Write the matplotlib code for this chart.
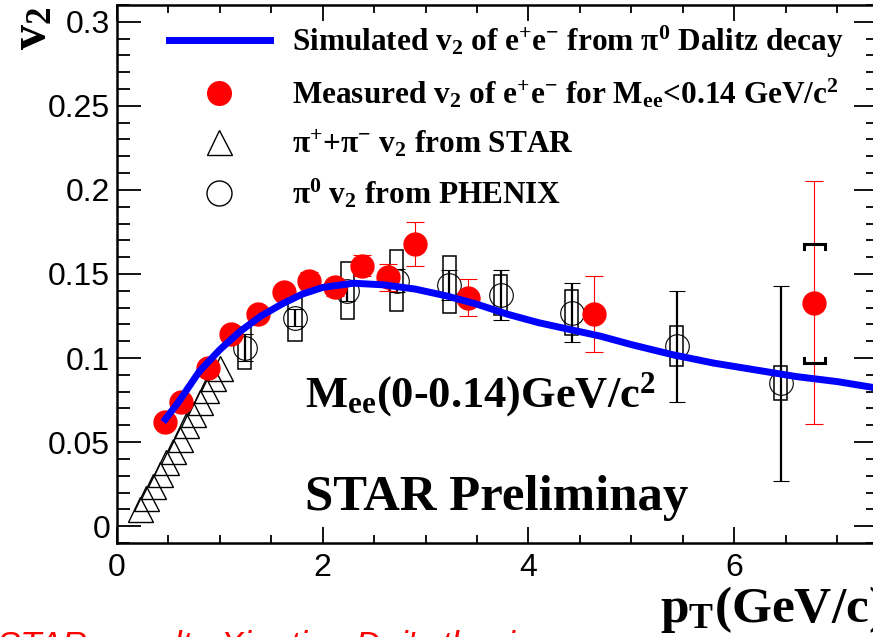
import matplotlib
matplotlib.use("Agg")
import matplotlib.pyplot as plt
from matplotlib.patches import Rectangle
from matplotlib.lines import Line2D
from matplotlib.ticker import MultipleLocator, FuncFormatter

# ---------------- data ----------------
sim_pt = [0.45, 0.6, 0.8, 1.0, 1.2, 1.4, 1.6, 1.8, 2.0, 2.3, 2.6, 2.9, 3.2, 3.5,
          3.8, 4.1, 4.4, 4.7, 5.0, 5.4, 5.8, 6.2, 6.6, 7.0, 7.4]
sim_v2 = [0.062, 0.074, 0.092, 0.105, 0.116, 0.125, 0.132, 0.138, 0.142, 0.1445,
          0.1435, 0.141, 0.137, 0.132, 0.126, 0.121, 0.117, 0.113, 0.108, 0.102,
          0.097, 0.093, 0.089, 0.086, 0.082]

meas_pt = [0.47, 0.62, 0.88, 1.11, 1.37, 1.62, 1.87, 2.12, 2.38, 2.63, 2.90, 3.41, 4.64, 6.78]
meas_v2 = [0.062, 0.074, 0.094, 0.114, 0.126, 0.139, 0.146, 0.142, 0.155, 0.148,
           0.168, 0.136, 0.126, 0.133]
meas_err = [0.003, 0.003, 0.003, 0.003, 0.004, 0.004, 0.005, 0.005, 0.006, 0.008,
            0.013, 0.011, 0.0225, 0.0725]
meas_sys_pt = [6.78]
meas_sys_lo = [0.097]
meas_sys_hi = [0.168]

star_pt = [0.22, 0.285, 0.35, 0.415, 0.48, 0.545, 0.61, 0.675, 0.74, 0.805, 0.87, 0.935, 1.0]
star_v2 = [0.010, 0.017, 0.024, 0.031, 0.038, 0.045, 0.052, 0.060, 0.067, 0.074,
           0.081, 0.088, 0.094]

phx_pt = [1.24, 1.73, 2.24, 2.72, 3.23, 3.73, 4.42, 5.44, 6.45]
phx_v2 = [0.106, 0.124, 0.140, 0.146, 0.1435, 0.1375, 0.127, 0.107, 0.085]
phx_err = [0.008, 0.005, 0.006, 0.007, 0.009, 0.015, 0.0175, 0.033, 0.058]
phx_sys = [0.0125, 0.014, 0.017, 0.018, 0.017, 0.012, 0.0135, 0.012, 0.010]

xticks = [0, 2, 4, 6]
yticks = [0, 0.05, 0.1, 0.15, 0.2, 0.25, 0.3]

# ---------------- style ----------------
plt.rcParams['font.family'] = ['Liberation Serif', 'DejaVu Serif']
plt.rcParams['font.weight'] = 'bold'
plt.rcParams['mathtext.fontset'] = 'custom'
plt.rcParams['mathtext.rm'] = 'Liberation Serif:bold'
plt.rcParams['mathtext.it'] = 'Liberation Serif:bold'
plt.rcParams['mathtext.bf'] = 'Liberation Serif:bold'
plt.rcParams['mathtext.default'] = 'rm'

fig = plt.figure(figsize=(8.73, 6.37), dpi=100)
ax = fig.add_axes([0.134, 0.1476, 0.872, 0.8446])

ax.set_xlim(0, 7.4)
ax.set_ylim(-0.01, 0.31)

# PHENIX systematic boxes
for x, y, s in zip(phx_pt, phx_v2, phx_sys):
    ax.add_patch(Rectangle((x - 0.065, y - s), 0.13, 2 * s, fill=False,
                           edgecolor='black', linewidth=1.1, zorder=2))

# STAR triangles
ax.plot(star_pt, star_v2, linestyle='none', marker='^', markersize=18,
        markerfacecolor='none', markeredgecolor='black', markeredgewidth=1.0, zorder=2)

# PHENIX circles with stat errors
ax.errorbar(phx_pt, phx_v2, yerr=phx_err, fmt='o', markersize=17,
            markerfacecolor='none', markeredgecolor='black', markeredgewidth=0.8,
            ecolor='black', elinewidth=1.6, capsize=5.5, capthick=1.6, zorder=3)

# Measured red points
ax.errorbar(meas_pt, meas_v2, yerr=meas_err, fmt='o', markersize=16.5,
            color='#ff0000', ecolor='#ff0000', elinewidth=0.8, capsize=6.5,
            capthick=0.8, zorder=4)

# systematic brackets for last red point
for x, lo, hi in zip(meas_sys_pt, meas_sys_lo, meas_sys_hi):
    ax.plot([x - 0.1, x - 0.1, x + 0.1, x + 0.1], [hi - 0.003, hi, hi, hi - 0.003],
            color='black', linewidth=2.2, zorder=4, solid_joinstyle='miter')
    ax.plot([x - 0.1, x - 0.1, x + 0.1, x + 0.1], [lo + 0.003, lo, lo, lo + 0.003],
            color='black', linewidth=2.2, zorder=4, solid_joinstyle='miter')

# Simulated curve
ax.plot(sim_pt, sim_v2, color='#0000ff', linewidth=5, zorder=5,
        solid_capstyle='butt')

# ---------------- axes ----------------
for sp in ax.spines.values():
    sp.set_linewidth(1.8)
ax.xaxis.set_major_locator(MultipleLocator(2))
ax.xaxis.set_minor_locator(MultipleLocator(0.5))
ax.yaxis.set_major_locator(MultipleLocator(0.05))
ax.yaxis.set_minor_locator(MultipleLocator(0.01))
ax.set_xticks(xticks)
ax.set_yticks(yticks)
ax.yaxis.set_major_formatter(FuncFormatter(lambda v, p: '%g' % round(v, 3)))
ax.xaxis.set_major_formatter(FuncFormatter(lambda v, p: '%g' % v))
ax.tick_params(axis='both', which='both', direction='in', top=True, right=True,
               width=1.3)
ax.tick_params(axis='x', which='major', length=11.5, pad=7)
ax.tick_params(axis='x', which='minor', length=6)
ax.tick_params(axis='y', which='major', length=17.5, pad=5)
ax.tick_params(axis='y', which='minor', length=9)
for lab in ax.get_xticklabels() + ax.get_yticklabels():
    lab.set_fontfamily('Liberation Sans')
    lab.set_fontweight('normal')
    lab.set_fontsize(23)

# ---------------- texts ----------------
ax.text(1.83, 0.071, r'$M_{ee}$(0-0.14)GeV/c$^{2}$', fontsize=32, ha='left',
        va='baseline', zorder=6)
ax.text(1.83, 0.0095, 'STAR Preliminay', fontsize=36.5, ha='left', va='baseline', zorder=6)

fig.text(0.038, 0.99, r'$v_2$', rotation=90, fontsize=36, ha='center', va='top')
fig.text(0.756, 0.0235, r'$p_T$(GeV/c)', fontsize=37, ha='left', va='baseline')

fig.text(-0.003, -0.030, "STAR  result:  Xiaotian Dai's thesis", fontsize=25,
         color='#ff0000', fontfamily='Liberation Sans', fontstyle='italic',
         fontweight='normal', ha='left', va='baseline')

# ---------------- legend ----------------
handles = [
    Line2D([], [], color='#0000ff', linewidth=5),
    Line2D([], [], linestyle='none', marker='o', markersize=17, color='#ff0000'),
    Line2D([], [], linestyle='none', marker='^', markersize=18, markerfacecolor='none',
           markeredgecolor='black', markeredgewidth=1.0),
    Line2D([], [], linestyle='none', marker='o', markersize=18, markerfacecolor='none',
           markeredgecolor='black', markeredgewidth=1.0),
]
labels = [
    r'Simulated $v_2$ of $e^{+}e^{-}$ from $\pi^{0}$ Dalitz decay',
    r'Measured $v_2$ of $e^{+}e^{-}$ for $M_{ee}$<0.14 GeV/c$^{2}$',
    r'$\pi^{+}$+$\pi^{-}$ $v_2$ from STAR',
    r'$\pi^{0}$ $v_2$ from PHENIX',
]
leg = ax.legend(handles, labels, loc='upper left', bbox_to_anchor=(0.068, 0.965),
                frameon=False, fontsize=22.5, handlelength=3.23, handletextpad=0.7,
                labelspacing=0.55, borderpad=0, borderaxespad=0)

fig.savefig('out.png', dpi=100)
